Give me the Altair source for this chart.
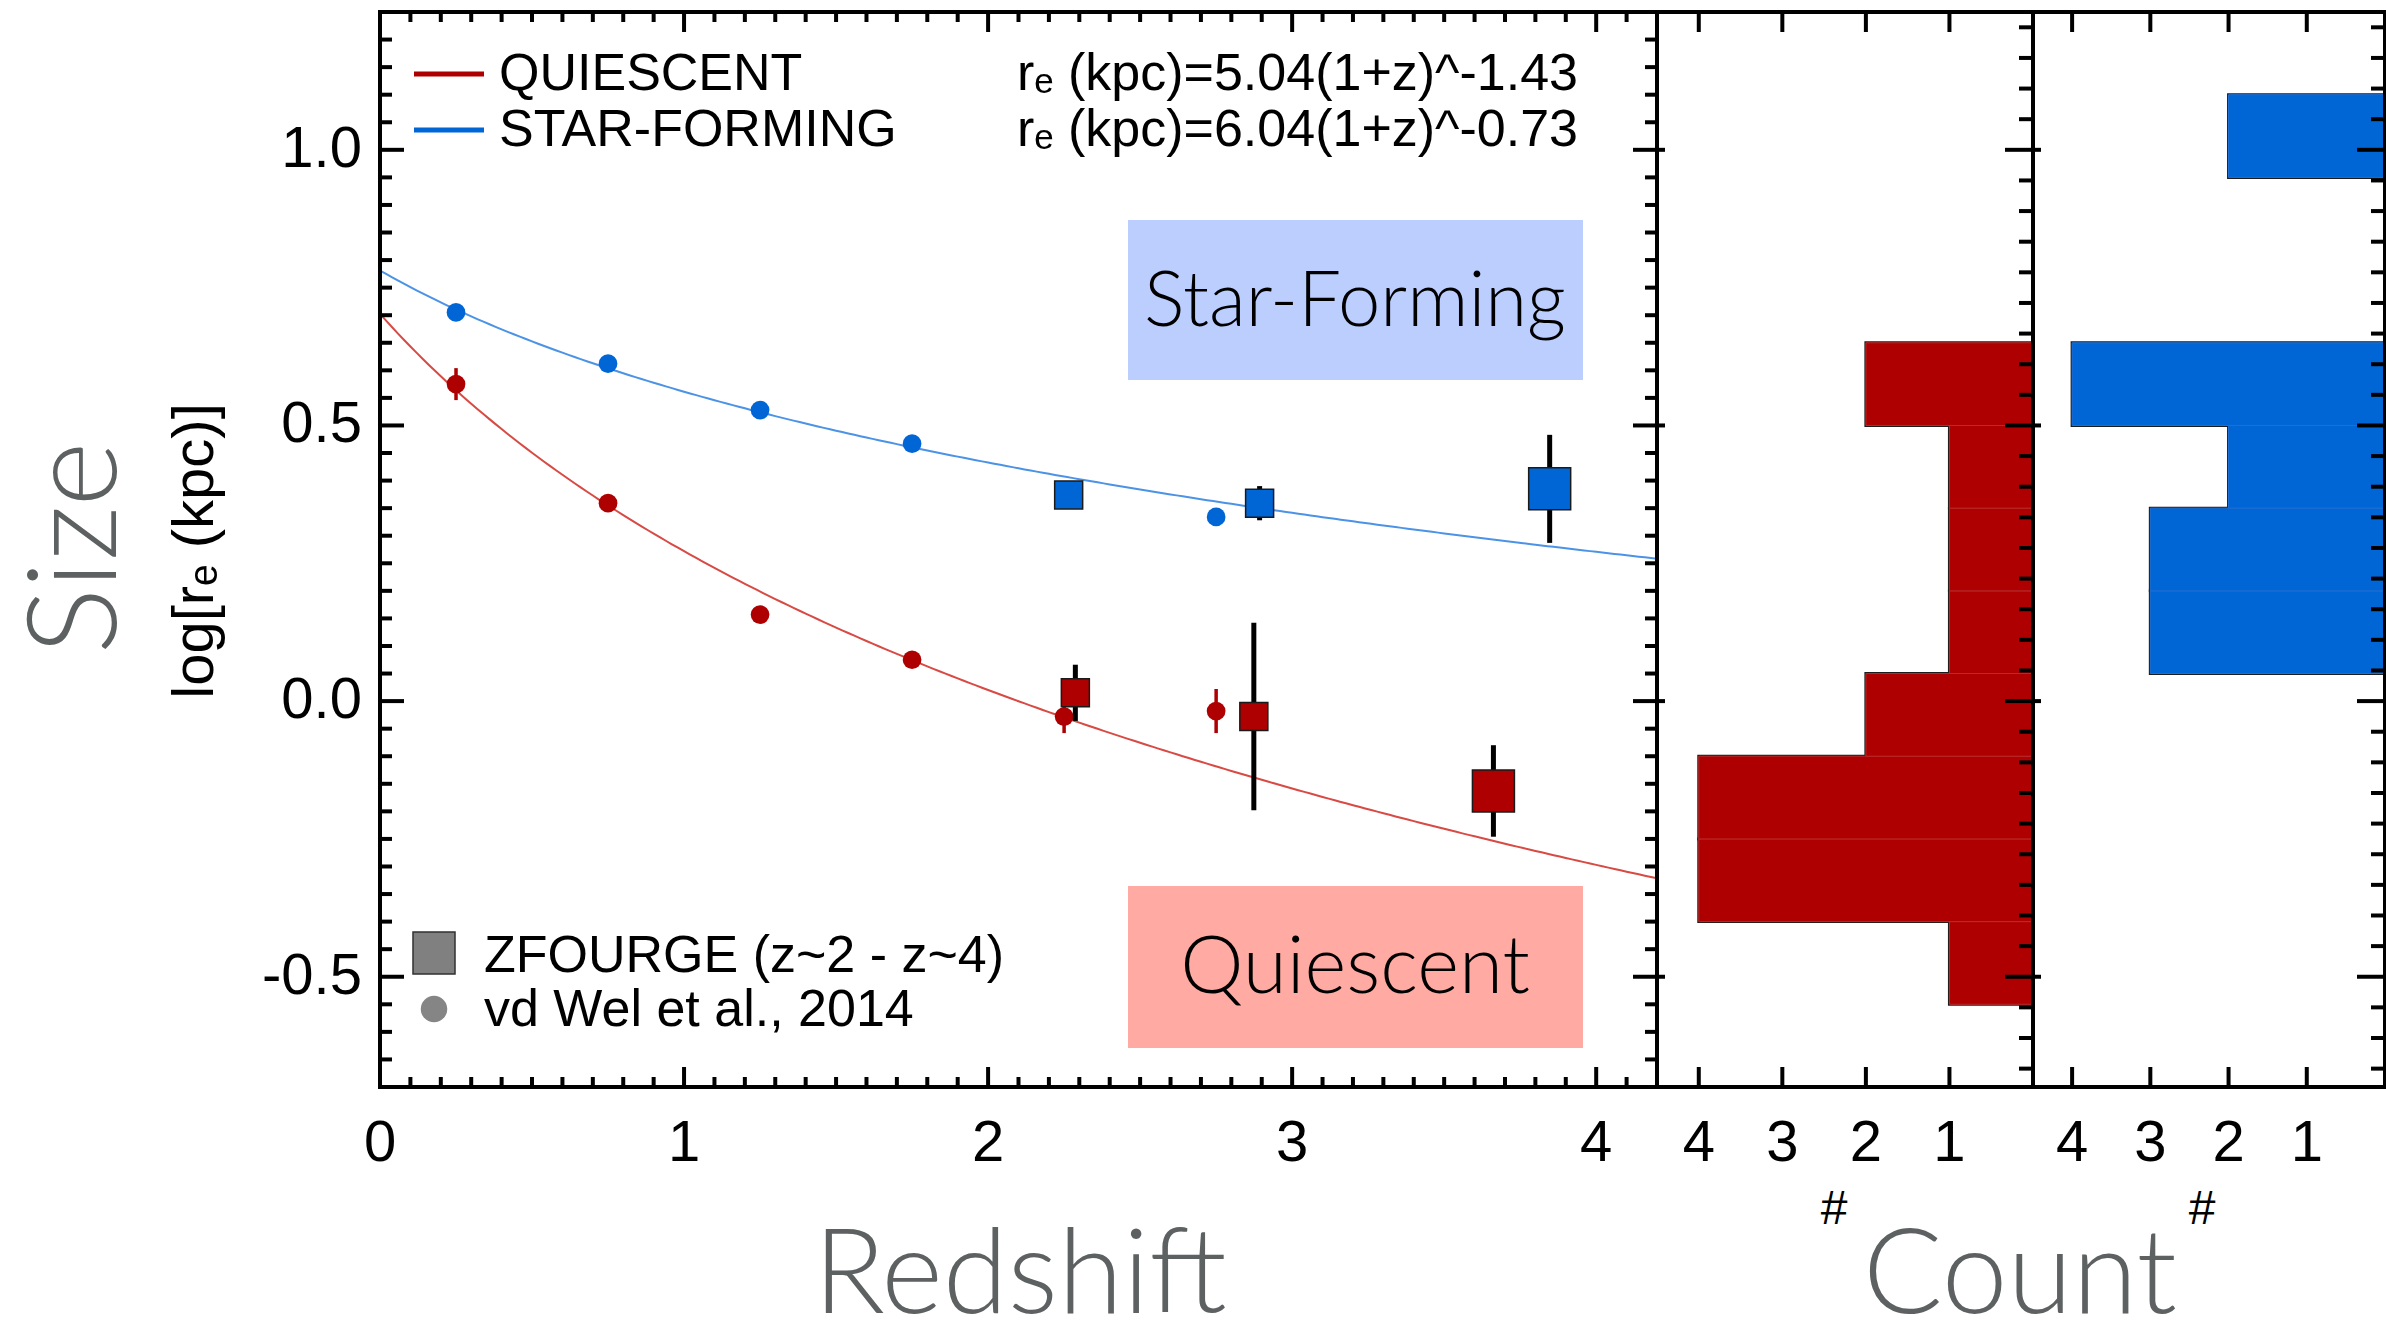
import altair as alt
import numpy as np
import pandas as pd

# ---------------- data ----------------
# van der Wel et al. (2014) median sizes, log r_e [kpc]
vdw_z_q = [0.25, 0.75, 1.25, 1.75, 2.25, 2.75]
vdw_logr_q = [0.575, 0.359, 0.157, 0.075, -0.028, -0.018]
vdw_err_q = [0.029, 0.012, 0.015, 0.012, 0.030, 0.040]
vdw_z_sf = [0.25, 0.75, 1.25, 1.75, 2.75]
vdw_logr_sf = [0.705, 0.612, 0.528, 0.467, 0.334]
vdw_err_sf = [0.010, 0.008, 0.008, 0.008, 0.010]

# ZFOURGE medians (z~2 - z~4)
zf_z_q = [2.287, 2.874, 3.662]
zf_logr_q = [0.015, -0.028, -0.163]
zf_err_q = [0.051, 0.170, 0.083]
zf_z_sf = [2.265, 2.893, 3.847]
zf_logr_sf = [0.374, 0.359, 0.385]
zf_err_sf = [0.020, 0.031, 0.098]

# power-law fits r_e = A (1+z)^B
fit_names = ["QUIESCENT", "STAR-FORMING"]
fit_amp = [5.04, 6.04]
fit_slope = [-1.43, -0.73]

# size histograms, 0.15 dex bins (lower edges and counts)
bin_width = 0.15
hist_lo_q = [-0.55, -0.40, -0.25, -0.10, 0.05, 0.20, 0.35, 0.50]
hist_n_q = [1, 4, 4, 2, 1, 1, 1, 2]
hist_lo_sf = [0.05, 0.20, 0.35, 0.50, 0.95]
hist_n_sf = [3, 3, 2, 4, 2]

# axis ticks
x_major = [0, 1, 2, 3, 4]
x_labels = ["0", "1", "2", "3", "4"]
y_major = [-0.5, 0.0, 0.5, 1.0]
y_labels = ["-0.5", "0.0", "0.5", "1.0"]
count_major = [4, 3, 2, 1]
count_labels = ["4", "3", "2", "1"]

# ---------------- styles / layout ----------------
W, H = 2386, 1325
RED = "#AE0000"
BLUE = "#0066D6"
RED_LINE = "#D84A44"
BLUE_LINE = "#4C93E6"
GREY_TITLE = "#5D6161"
FONT = "Liberation Sans, Arial, Helvetica, sans-serif"
THIN = "Lato, Open Sans, sans-serif"
ZF_SIDE = [28, 28, 42]          # square marker sides (px)

X_DOM = [0, 4.2]
Y_DOM = [-0.7, 1.25]
H_DOM = [0, 4.5]
XM = alt.Scale(domain=X_DOM, range=[380, 1657], nice=False, zero=False)
XH1 = alt.Scale(domain=H_DOM, range=[2033, 1657], nice=False, zero=False)
XH2 = alt.Scale(domain=H_DOM, range=[2385, 2033], nice=False, zero=False)
YS = alt.Scale(domain=Y_DOM, range=[1087, 12], nice=False, zero=False)


def X(field, scale):
    return alt.X(field, type="quantitative", scale=scale, axis=None)


def Y(field):
    return alt.Y(field, type="quantitative", scale=YS, axis=None)


layers = []

# ---- annotation boxes ----
box_specs = [("Star-Forming", "#BBCEFE", 220, 380, 326, 76),
             ("Quiescent", "#FFABA3", 886, 1048, 993, 80)]
for label, col, top, bot, base, fs in box_specs:
    layers.append(alt.Chart(pd.DataFrame({"a": [0]})).mark_rect(color=col).encode(
        x=alt.value(1128), x2=alt.value(1583), y=alt.value(top), y2=alt.value(bot)))
    layers.append(alt.Chart(pd.DataFrame({"a": [0]})).mark_text(
        text=label, font=THIN, fontWeight=300, fontSize=fs, color="black",
        align="center", baseline="alphabetic").encode(
        x=alt.value(1355), y=alt.value(base)))

# ---- histograms ----
def hist_layers(lo, n, xscale, fill, seam):
    df = pd.DataFrame({"lo": lo, "n": n})
    df["hi"] = df["lo"] + bin_width
    df["base"] = 0
    enc = dict(x=X("n", xscale), x2="base", y=Y("lo"), y2="hi")
    return [
        alt.Chart(df).mark_rect(fill=fill, stroke="#1c1c1c", strokeWidth=3).encode(**enc),
        alt.Chart(df).mark_rect(fill=fill, stroke=seam, strokeWidth=1).encode(**enc),
    ]


layers += hist_layers(hist_lo_q, hist_n_q, XH1, RED, "#BC2A2A")
layers += hist_layers(hist_lo_sf, hist_n_sf, XH2, BLUE, "#1F70D8")

# ---- fit curves ----
zgrid = np.round(np.arange(0, 4.2001, 0.02), 3)
for name, amp, slope, col in zip(fit_names, fit_amp, fit_slope, [RED_LINE, BLUE_LINE]):
    cdf = pd.DataFrame({"z": zgrid, "logr": np.log10(amp) + slope * np.log10(1 + zgrid)})
    layers.append(alt.Chart(cdf).mark_line(color=col, strokeWidth=2).encode(
        x=X("z", XM), y=Y("logr")))

# ---- van der Wel points ----
for zz, vv, ee, col in [(vdw_z_q, vdw_logr_q, vdw_err_q, RED),
                        (vdw_z_sf, vdw_logr_sf, vdw_err_sf, BLUE)]:
    df = pd.DataFrame({"z": zz, "v": vv, "e": ee})
    df["lo"] = df["v"] - df["e"]
    df["hi"] = df["v"] + df["e"]
    layers.append(alt.Chart(df).mark_rule(color=col, strokeWidth=3.5).encode(
        x=X("z", XM), y=Y("lo"), y2="hi"))
    layers.append(alt.Chart(df).mark_circle(color=col, opacity=1, size=350).encode(
        x=X("z", XM), y=Y("v")))

# ---- ZFOURGE points ----
for zz, vv, ee, col in [(zf_z_q, zf_logr_q, zf_err_q, RED),
                        (zf_z_sf, zf_logr_sf, zf_err_sf, BLUE)]:
    df = pd.DataFrame({"z": zz, "v": vv, "e": ee})
    df["lo"] = df["v"] - df["e"]
    df["hi"] = df["v"] + df["e"]
    df["area"] = [s * s for s in ZF_SIDE]
    layers.append(alt.Chart(df).mark_rule(color="black", strokeWidth=5).encode(
        x=X("z", XM), y=Y("lo"), y2="hi"))
    layers.append(alt.Chart(df).mark_square(fill=col, stroke="#1a1a1a", strokeWidth=1.5,
                                            filled=True, opacity=1).encode(
        x=X("z", XM), y=Y("v"), size=alt.Size("area:Q", scale=None)))

# ---- panel frames ----
for xscale, xd in [(XM, X_DOM), (XH1, H_DOM), (XH2, H_DOM)]:
    fdf = pd.DataFrame({"x0": [xd[0]], "x1": [xd[1]], "y0": [Y_DOM[0]], "y1": [Y_DOM[1]]})
    layers.append(alt.Chart(fdf).mark_rect(fillOpacity=0, stroke="black", strokeWidth=4).encode(
        x=X("x0", xscale), x2="x1", y=Y("y0"), y2="y1"))


# ---- ticks (drawn inward from each frame edge) ----
def xticks(values, xscale, edge, length):
    df = pd.DataFrame({"v": values, "e": edge})
    return alt.Chart(df).mark_rule(color="black", strokeWidth=4, y2Offset=length).encode(
        x=X("v", xscale), y=Y("e"), y2="e")


def yticks(values, xscale, edge, length):
    df = pd.DataFrame({"v": values, "e": edge})
    return alt.Chart(df).mark_rule(color="black", strokeWidth=4, x2Offset=length).encode(
        x=X("e", xscale), x2="e", y=Y("v"))


x_minor = [round(0.1 * k, 2) for k in range(1, 42) if k % 10]
y_minor = [round(-0.7 + 0.05 * k, 3) for k in range(1, 39) if (k - 4) % 10]
h_minor = [-0.5 + k / 18 for k in range(-3, 32) if k % 9]

layers += [
    xticks(x_major, XM, Y_DOM[0], -20), xticks(x_minor, XM, Y_DOM[0], -10),
    xticks(x_major, XM, Y_DOM[1], 20), xticks(x_minor, XM, Y_DOM[1], 10),
    yticks(y_major, XM, X_DOM[0], 24), yticks(y_minor, XM, X_DOM[0], 12),
    yticks(y_major, XM, X_DOM[1], -24), yticks(y_minor, XM, X_DOM[1], -12),
]
for xs in (XH1, XH2):
    layers += [
        xticks(count_major, xs, Y_DOM[0], -20), xticks(count_major, xs, Y_DOM[1], 20),
        yticks(y_major, xs, H_DOM[1], 8),
        yticks(y_major, xs, H_DOM[0], -28), yticks(h_minor, xs, H_DOM[0], -14),
    ]

# ---- tick labels ----
def xlabels(values, labels, xscale):
    df = pd.DataFrame({"v": values, "t": labels, "e": Y_DOM[0]})
    return alt.Chart(df).mark_text(font=FONT, fontSize=58, color="black", align="center",
                                   baseline="middle", dy=57).encode(
        x=X("v", xscale), y=Y("e"), text="t:N")


layers.append(xlabels(x_major, x_labels, XM))
layers.append(xlabels(count_major, count_labels, XH1))
layers.append(xlabels(count_major, count_labels, XH2))
ydf = pd.DataFrame({"v": y_major, "t": y_labels, "e": X_DOM[0]})
layers.append(alt.Chart(ydf).mark_text(font=FONT, fontSize=58, color="black", align="right",
                                       baseline="middle", dx=-18).encode(
    x=X("e", XM), y=Y("v"), text="t:N"))


# ---- titles ----
def free_text(txt, x, y, **kw):
    return alt.Chart(pd.DataFrame({"a": [0]})).mark_text(text=txt, **kw).encode(
        x=alt.value(x), y=alt.value(y))


layers += [
    free_text("Size", 116, 548, angle=270, font=THIN, fontWeight=300, fontSize=125,
              color=GREY_TITLE, align="center", baseline="alphabetic"),
    free_text("log[rₑ (kpc)]", 213, 551, angle=270, font=FONT, fontSize=58,
              color="black", align="center", baseline="alphabetic"),
    free_text("Redshift", 1020, 1313, font=THIN, fontWeight=300, fontSize=118,
              color=GREY_TITLE, align="center", baseline="alphabetic"),
    free_text("Count", 2020, 1313, font=THIN, fontWeight=300, fontSize=118,
              color=GREY_TITLE, align="center", baseline="alphabetic"),
    free_text("#", 1834, 1210, font=FONT, fontSize=48, color="black",
              align="center", baseline="middle"),
    free_text("#", 2202, 1210, font=FONT, fontSize=48, color="black",
              align="center", baseline="middle"),
]

# ---- legends ----
for name, amp, slope, col, yy in zip(fit_names, fit_amp, fit_slope, [RED, BLUE], [74, 130]):
    layers.append(alt.Chart(pd.DataFrame({"a": [0]})).mark_rule(color=col, strokeWidth=5).encode(
        x=alt.value(414), x2=alt.value(484), y=alt.value(yy)))
    layers.append(free_text(name, 499, yy, font=FONT, fontSize=52, color="black",
                            align="left", baseline="middle"))
    layers.append(free_text(f"rₑ (kpc)={amp:.2f}(1+z)^{slope:.2f}", 1578, yy, font=FONT,
                            fontSize=52, color="black", align="right", baseline="middle"))

layers.append(alt.Chart(pd.DataFrame({"a": [0]})).mark_square(
    fill="#808080", stroke="#303030", strokeWidth=1.5, filled=True, opacity=1, size=1764).encode(
    x=alt.value(434), y=alt.value(953)))
layers.append(alt.Chart(pd.DataFrame({"a": [0]})).mark_circle(
    color="#858585", opacity=1, size=700).encode(x=alt.value(434), y=alt.value(1009)))
layers.append(free_text("ZFOURGE (z~2 - z~4)", 484, 956, font=FONT, fontSize=52,
                        color="black", align="left", baseline="middle"))
layers.append(free_text("vd Wel et al., 2014", 484, 1010, font=FONT, fontSize=52,
                        color="black", align="left", baseline="middle"))

chart = alt.layer(*layers).resolve_scale(x="independent", y="independent").properties(
    width=W, height=H, padding=0, autosize=alt.AutoSizeParams(type="none")
).configure_view(strokeWidth=0)

chart.save("out.html", embed_options={"renderer": "svg", "actions": False})
